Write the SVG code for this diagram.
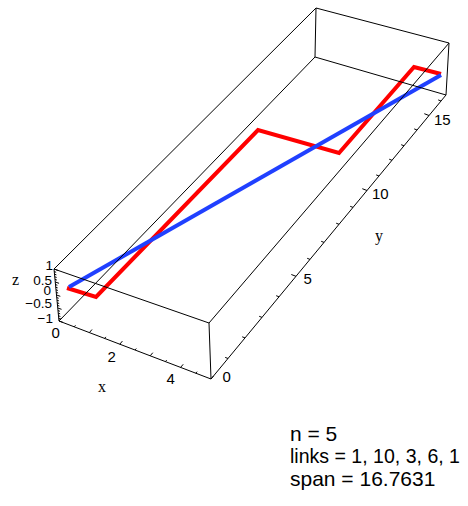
<svg xmlns="http://www.w3.org/2000/svg" width="468" height="506" viewBox="0 0 468 506">
<style>
.edge{fill:none;stroke:#000;stroke-width:1}
.tick{fill:none;stroke:#000;stroke-width:1}
.num{font-family:"Liberation Sans",Arial,sans-serif;font-size:15px;fill:#000}
.zn{font-family:"Liberation Sans",Arial,sans-serif;font-size:13.5px;fill:#000}
.ax{font-family:"Liberation Serif","Times New Roman",serif;font-size:16px;fill:#000}
.info{font-family:"Liberation Sans",Arial,sans-serif;font-size:21px;fill:#000}
</style>
<rect width="468" height="506" fill="#fff"/>
<g id="curves">
<polyline id="red" points="67,288 96,297 258,130 339,153 414,67 441,74" fill="none" stroke="#ff0000" stroke-width="4" stroke-linejoin="miter"/>
<line id="blue" x1="69" y1="287" x2="441" y2="75" stroke="#2040ff" stroke-width="4"/>
</g>
<g id="box">
<path class="edge" d="M54,269 L59,321 M54,269 L209,323 M59,321 L211,379 M209,323 L211,379 M54,269 L316,8 M59,321 L315,57 M209,323 L449,43 M211,379 L446,95 M316,8 L315,57 M316,8 L449,43 M315,57 L446,95 M449,43 L446,95"/>
</g>
<g id="ticks">
<path class="tick" d="M54,269 l3.8,1.3 M54.25,271.6 l1.9,.66 M54.5,274.2 l1.9,.66 M54.75,276.8 l1.9,.66 M55,279.4 l1.9,.66 M55.25,282 l3.8,1.3 M55.5,284.6 l1.9,.66 M55.75,287.2 l1.9,.66 M56,289.8 l1.9,.66 M56.25,292.4 l1.9,.66 M56.5,295 l3.8,1.3 M56.75,297.6 l1.9,.66 M57,300.2 l1.9,.66 M57.25,302.8 l1.9,.66 M57.5,305.4 l1.9,.66 M57.75,308 l3.8,1.3 M58,310.6 l1.9,.66 M58.25,313.2 l1.9,.66 M58.5,315.8 l1.9,.66 M58.75,318.4 l1.9,.66 M59,321 l3.8,1.3"/>
<path class="tick" d="M59,321 l2.6,-3.1 M74.2,326.8 l1.3,-1.5 M89.4,332.6 l2.6,-3.1 M104.6,338.4 l1.3,-1.5 M119.8,344.2 l2.6,-3.1 M135,350 l1.3,-1.5 M150.2,355.8 l2.6,-3.1 M165.4,361.6 l1.3,-1.5 M180.6,367.4 l2.6,-3.1 M195.8,373.2 l1.3,-1.5 M211,379 l2.6,-3.1"/>
<path class="tick" d="M228,358.5 l-2.8,-1.1 M245,337.9 l-2.8,-1.1 M262,317.4 l-2.8,-1.1 M279,296.8 l-2.8,-1.1 M296,276.3 l-4.7,-1.8 M310,259.4 l-2.8,-1.1 M324,242.4 l-2.8,-1.1 M339,224.3 l-2.8,-1.1 M353,207.4 l-2.8,-1.1 M367,190.5 l-4.7,-1.8 M379,176 l-2.8,-1.1 M392,160.3 l-2.8,-1.1 M404,145.8 l-2.8,-1.1 M417,130 l-2.8,-1.1 M429,115.5 l-4.7,-1.8 M441,101 l-2.8,-1.1"/>
</g>
<g id="labels">
<text class="ax" x="12" y="285">z</text>
<text class="zn" x="53" y="270" text-anchor="end">1</text>
<text class="zn" x="52" y="285" text-anchor="end">0.5</text>
<text class="zn" x="51" y="295" text-anchor="end">0</text>
<text class="zn" x="52" y="308" text-anchor="end">−0.5</text>
<text class="zn" x="53" y="323" text-anchor="end">−1</text>
<text class="num" x="51.5" y="338">0</text>
<text class="num" x="107.5" y="362">2</text>
<text class="num" x="166.5" y="384">4</text>
<text class="ax" x="98" y="392">x</text>
<text class="num" x="222.5" y="382">0</text>
<text class="num" x="303.5" y="284">5</text>
<text class="num" x="372" y="199">10</text>
<text class="ax" x="375" y="241">y</text>
<text class="num" x="434" y="125">15</text>
</g>
<g id="info">
<text class="info" x="290" y="441">n = 5</text>
<text class="info" x="290" y="463" textLength="170" lengthAdjust="spacingAndGlyphs">links = 1, 10, 3, 6, 1</text>
<text class="info" x="290" y="486">span = 16.7631</text>
</g>
</svg>
